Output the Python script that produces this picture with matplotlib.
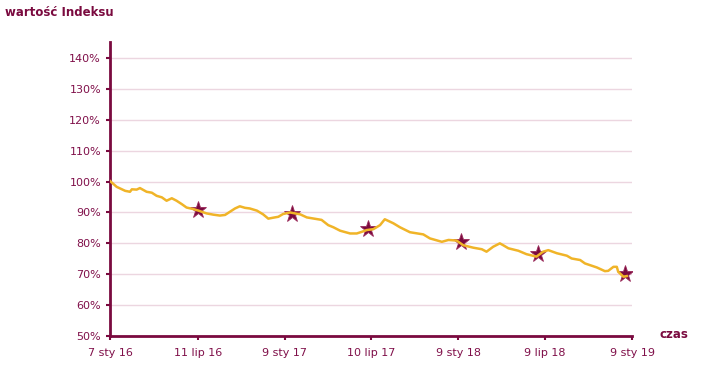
import pandas as pd
import matplotlib
matplotlib.use('Agg')
import matplotlib.pyplot as plt
from matplotlib.ticker import FuncFormatter

# index line
dates = ['2016-01-07', '2016-01-21', '2016-02-08', '2016-02-18', '2016-02-22', '2016-03-03',
         '2016-03-10', '2016-03-24', '2016-04-04', '2016-04-14', '2016-04-25', '2016-05-05',
         '2016-05-16', '2016-05-26', '2016-06-06', '2016-06-16', '2016-06-30', '2016-07-11',
         '2016-07-28', '2016-08-11', '2016-08-25', '2016-09-05', '2016-09-15', '2016-09-26',
         '2016-10-06', '2016-10-17', '2016-10-27', '2016-11-11', '2016-11-24', '2016-12-05',
         '2016-12-15', '2016-12-26', '2017-01-05', '2017-01-20', '2017-01-30', '2017-02-10',
         '2017-02-24', '2017-03-27', '2017-04-10', '2017-04-21', '2017-05-05', '2017-05-26',
         '2017-06-09', '2017-06-19', '2017-06-30', '2017-07-14', '2017-07-28', '2017-08-07',
         '2017-08-14', '2017-08-25', '2017-09-08', '2017-09-29', '2017-10-27', '2017-11-10',
         '2017-12-05', '2017-12-19', '2018-01-05', '2018-01-19', '2018-02-09', '2018-02-27',
         '2018-03-09', '2018-03-23', '2018-04-06', '2018-04-13', '2018-04-24', '2018-05-15',
         '2018-06-01', '2018-06-22', '2018-07-06', '2018-07-17', '2018-08-04', '2018-08-25',
         '2018-09-04', '2018-09-22', '2018-10-02', '2018-10-27', '2018-11-13', '2018-11-20',
         '2018-12-01', '2018-12-08', '2018-12-11', '2018-12-22', '2018-12-29']
values = [100.2, 98.3, 97.0, 96.7, 97.5, 97.4,
          97.9, 96.7, 96.4, 95.4, 94.9, 93.8,
          94.6, 93.8, 92.7, 91.6, 91.1, 90.6,
          89.7, 89.3, 89.0, 89.2, 90.2, 91.3,
          92.0, 91.5, 91.3, 90.6, 89.4, 88.0,
          88.3, 88.6, 89.5, 90.0, 89.7, 89.4,
          88.4, 87.6, 85.9, 85.2, 84.1, 83.2,
          83.2, 83.7, 84.3, 84.6, 85.9, 87.8,
          87.3, 86.5, 85.2, 83.6, 82.9, 81.6,
          80.5, 81.1, 80.9, 79.4, 78.6, 78.1,
          77.3, 78.9, 80.0, 79.4, 78.4, 77.6,
          76.5, 75.7, 77.3, 77.8, 76.8, 76.0,
          75.1, 74.6, 73.5, 72.2, 71.0, 71.1,
          72.4, 72.4, 70.8, 69.2, 69.4]

# star markers
star_dates = ['2016-07-11', '2017-01-23', '2017-07-03', '2018-01-14', '2018-06-26', '2018-12-25']
star_values = [90.8, 89.5, 84.5, 80.5, 76.6, 70.0]

tick_dates = ['2016-01-07', '2016-07-11', '2017-01-09', '2017-07-10', '2018-01-09', '2018-07-09', '2019-01-09']
tick_labels = ['7 sty 16', '11 lip 16', '9 sty 17', '10 lip 17', '9 sty 18', '9 lip 18', '9 sty 19']

maroon = '#7a0a3f'
text_col = '#80104a'
gold = '#f0b428'

plt.rcParams['font.family'] = ['DejaVu Sans']
fig = plt.figure(figsize=(7.25, 3.69), dpi=100)
ax = fig.add_axes([110/725, 33/369, 522/725, 294/369])

x = pd.to_datetime(dates)
ax.plot(pd.to_datetime(star_dates), star_values, ls='none', marker='*', ms=12.5,
        color=maroon, markeredgecolor='#9a2a5a', markeredgewidth=0.6, zorder=3)
ax.plot(x, values, color=gold, lw=1.8, zorder=4)

ax.set_xlim(pd.Timestamp('2016-01-07'), pd.Timestamp('2019-01-09'))
ax.set_ylim(50, 145.2)
ax.set_yticks(range(50, 141, 10))
ax.yaxis.set_major_formatter(FuncFormatter(lambda v, p: f'{v:.0f}%'))
ax.set_xticks(pd.to_datetime(tick_dates))
ax.set_xticklabels(tick_labels)

ax.grid(axis='y', color='#ecd6e0', lw=1)
ax.set_axisbelow(True)
for s in ['top', 'right']:
    ax.spines[s].set_visible(False)
for s in ['left', 'bottom']:
    ax.spines[s].set_color(maroon)
    ax.spines[s].set_linewidth(2)
ax.tick_params(colors=maroon, labelcolor=text_col, labelsize=8, length=3, width=1.5)
ax.tick_params(axis='x', pad=6)

fig.text(5/725, 1 - 12/369, 'wartość Indeksu', color=maroon, fontsize=8.5,
         fontweight='bold', va='center', ha='left')
fig.text(660/725, 1 - 335/369, 'czas', color=maroon, fontsize=8.5,
         fontweight='bold', va='center', ha='left')

fig.savefig('out.png', dpi=100)
